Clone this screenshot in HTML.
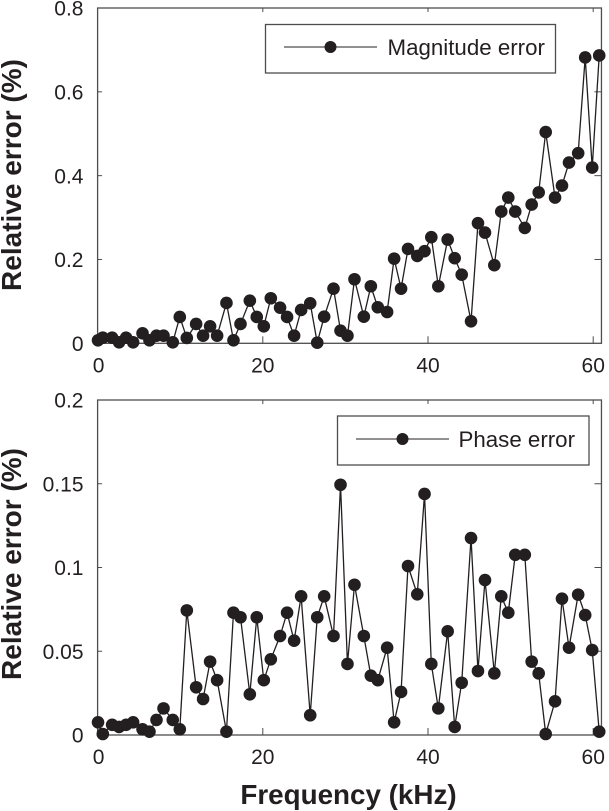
<!DOCTYPE html>
<html>
<head>
<meta charset="utf-8">
<title>Relative error vs frequency</title>
<style>
html,body{margin:0;padding:0;background:#fff;}
svg{display:block;}
text{font-family:"Liberation Sans",Arial,sans-serif;fill:#231f20;}
</style>
</head>
<body>
<svg id="chart" xmlns="http://www.w3.org/2000/svg" width="609" height="811" viewBox="0 0 609 811"></svg>
<script>
const frequency = [0.05,0.63,1.76,2.6,3.45,4.3,5.44,6.28,7.13,7.98,9.1,9.95,10.8,11.93,12.77,13.62,14.47,15.6,16.45,17.3,18.43,19.27,20.12,20.97,22.09,22.94,23.79,24.64,25.74,26.59,27.43,28.56,29.41,30.25,31.1,32.23,33.08,33.92,35.05,35.9,36.74,37.58,38.7,39.58,40.4,41.25,42.38,43.23,44.08,45.21,46.05,46.9,48.03,48.87,49.72,50.56,51.72,52.55,53.4,54.25,55.38,56.22,57.07,58.18,59.03,59.88,60.73];
const magnitudeError = [.0072,.0134,.0134,.0024,.0134,.0024,.0239,.0072,.0181,.0181,.0024,.0628,.0127,.0461,.0181,.0406,.0181,.0962,.0072,.0461,.1017,.0628,.0406,.1075,.085,.0628,.0181,.0795,.0955,.0014,.0635,.1304,.0301,.0181,.1528,.0635,.1361,.086,.0747,.202,.1304,.2252,.2085,.2197,.2531,.1361,.2474,.203,.1638,.0525,.2866,.2641,.1863,.3143,.3477,.3143,.2753,.331,.36,.5039,.3477,.3763,.4313,.4537,.682,.4193,.6868];
const phaseError = [.0076,.0006,.0061,.0048,.0061,.0076,.0034,.002,.009,.0159,.009,.0034,.0744,.0285,.0215,.0438,.0327,.002,.073,.0703,.0243,.0703,.0327,.0452,.0591,.073,.0563,.0828,.0118,.0703,.0828,.0591,.1494,.0424,.0897,.0591,.0354,.0327,.0521,.0076,.0257,.1009,.084,.1439,.0424,.0159,.0619,.0048,.0312,.1176,.0382,.0925,.0368,.0828,.073,.1076,.1076,.0438,.0368,.0006,.0201,.0814,.0521,.0838,.0716,.0507,.002];
const xTicks = [0,20,40,60];
const magnitudeTicks = [0,0.2,0.4,0.6,0.8];
const magnitudeTickLabels = ["0","0.2","0.4","0.6","0.8"];
const phaseTicks = [0,0.05,0.1,0.15,0.2];
const phaseTickLabels = ["0","0.05","0.1","0.15","0.2"];

const NS = "http://www.w3.org/2000/svg";
const INK = "#231f20";
const AXIS = "#4d4d4f";
const root = document.getElementById("chart");
const xLeft = 97.6, xPerKhz = 8.26, xMax = 61;
const xScale = f => xLeft + f * xPerKhz;

function make(parent, tag, attrs) {
  const el = document.createElementNS(NS, tag);
  for (const k in attrs) el.setAttribute(k, attrs[k]);
  parent.appendChild(el);
  return el;
}

function drawPanel(cfg) {
  const g = make(root, "g", {});
  
  
  const yScale = v => cfg.bottom - (v / cfg.yMax) * (cfg.bottom - cfg.top);
  const right = xScale(xMax);

  const frame = make(g, "rect", {x:xLeft, y:cfg.top, width:right-xLeft, height:cfg.bottom-cfg.top, fill:"none", stroke:AXIS, "stroke-width":1.3});
  
  

  xTicks.forEach(t => {
    const x = xScale(t);
    if (t > 0) {
      const low = make(g, "line", {x1:x, x2:x, y1:cfg.bottom, y2:cfg.bottom-7, stroke:AXIS, "stroke-width":1});
      
      
      const high = make(g, "line", {x1:x, x2:x, y1:cfg.top, y2:cfg.top+4, stroke:AXIS, "stroke-width":1});
      
      
    }
    const lab = make(g, "text", {x:t === 0 ? x + 1 : x, y:cfg.bottom + 29, "text-anchor":"middle", "font-size":21});
    
    
    lab.textContent = String(t);
  });

  cfg.ticks.forEach((t, i) => {
    const y = yScale(t);
    if (t > 0 && t < cfg.yMax) {
      const l = make(g, "line", {x1:xLeft, x2:xLeft+4.5, y1:y, y2:y, stroke:AXIS, "stroke-width":1});
      
      
      const r = make(g, "line", {x1:right, x2:right-7, y1:y, y2:y, stroke:AXIS, "stroke-width":1});
      
      
    }
    const lab = make(g, "text", {x:83.5, y:y + 7.6, "text-anchor":"end", "font-size":21});
    
    
    lab.textContent = cfg.tickLabels[i];
  });

  const pts = cfg.values.map((v, i) => xScale(frequency[i]).toFixed(2) + "," + yScale(v).toFixed(2)).join(" ");
  const line = make(g, "polyline", {points:pts, fill:"none", stroke:INK, "stroke-width":1.3, "stroke-linejoin":"miter"});
  
  

  cfg.values.forEach((v, i) => {
    const c = make(g, "circle", {cx:xScale(frequency[i]), cy:yScale(v), r:6.3, fill:INK});
    
    
  });

  const title = make(g, "text", {transform:"translate(21," + cfg.titleY + ") rotate(-90)", "text-anchor":"middle", "font-size":cfg.titleSize, "font-weight":"bold"});
  
  
  title.textContent = "Relative error (%)";

  const lg = make(g, "g", {});
  
  
  const L = cfg.legend;
  const box = make(lg, "rect", {x:L.x, y:L.y, width:L.w, height:L.h, fill:"#fff", stroke:AXIS, "stroke-width":1.3});
  
  
  const ll = make(lg, "line", {x1:L.x1, x2:L.x2, y1:L.my, y2:L.my, stroke:INK, "stroke-width":1});
  
  
  const lm = make(lg, "circle", {cx:(L.x1+L.x2)/2, cy:L.my, r:6, fill:INK});
  
  
  const lt = make(lg, "text", {x:L.tx, y:L.my + 8, "font-size":22.3});
  
  
  lt.textContent = L.label;
}

drawPanel({
  name:"magnitude", top:8, bottom:343.3, yMax:0.8, values:magnitudeError,
  ticks:magnitudeTicks, tickLabels:magnitudeTickLabels, titleY:175, titleSize:28,
  legend:{x:265.5, y:24.5, w:290, h:48.5, x1:284, x2:377, my:47, tx:387.5, label:"Magnitude error"}
});
drawPanel({
  name:"phase", top:400, bottom:735, yMax:0.2, values:phaseError,
  ticks:phaseTicks, tickLabels:phaseTickLabels, titleY:564, titleSize:28,
  legend:{x:337.5, y:416, w:251.5, h:49, x1:356, x2:449, my:439, tx:458.5, label:"Phase error"}
});

const xTitle = make(root, "text", {x:348.5, y:804, "text-anchor":"middle", "font-size":27.8, "font-weight":"bold"});


xTitle.textContent = "Frequency (kHz)";
</script>
</body>
</html>
